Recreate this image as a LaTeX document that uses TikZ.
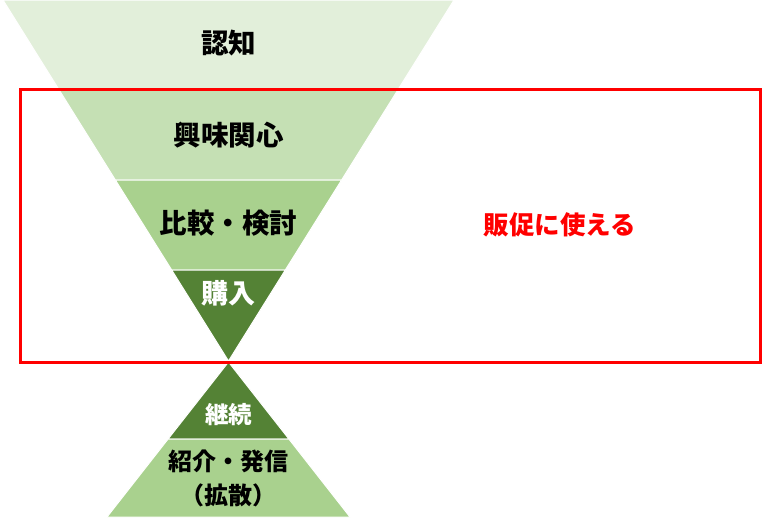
\documentclass[tikz,border=0pt]{standalone}
\usepackage{fontspec}
\setmainfont{Noto Sans CJK JP}
\definecolor{g1}{HTML}{E2EFDA}
\definecolor{g2}{HTML}{C5E0B4}
\definecolor{g3}{HTML}{A9D18E}
\definecolor{g4}{HTML}{548235}
\definecolor{rd}{HTML}{FF0000}
\tikzset{
  layer/.style={draw=white, line width=1pt},
  lbl/.style={font=\fontsize{27.5}{30}\selectfont\bfseries, text=black, inner sep=0pt},
  lblw/.style={font=\fontsize{27}{30}\selectfont\bfseries, text=white, inner sep=0pt},
  lbls/.style={font=\fontsize{24}{30}\selectfont\bfseries, text=black, inner sep=0pt},
  lblsw/.style={font=\fontsize{23.5}{30}\selectfont\bfseries, text=white, inner sep=0pt},
  redtxt/.style={font=\fontsize{25.5}{30}\selectfont\bfseries, text=rd, inner sep=0pt},
  redbox/.style={draw=rd, line width=3pt},
}
\begin{document}
\begin{tikzpicture}[x=1pt,y=-1pt]
\useasboundingbox (0,0) rectangle (780,520);
% top funnel
\fill[g1, layer] (3,0) -- (454,0) -- (397.8,90) -- (59.2,90) -- cycle;
\fill[g2, layer] (59.2,90) -- (397.8,90) -- (341.6,180) -- (115.4,180) -- cycle;
\fill[g3, layer] (115.4,180) -- (341.6,180) -- (285.3,270) -- (171.7,270) -- cycle;
\fill[g4, layer] (171.7,270) -- (285.3,270) -- (228.5,361) -- cycle;
% bottom pyramid
\fill[g4, layer] (228.5,362) -- (288.9,439) -- (168.1,439) -- cycle;
\fill[g3, layer] (168.1,439) -- (288.9,439) -- (350,517) -- (107,517) -- cycle;
% red box
\draw[redbox] (20,89) rectangle (760,362);
% labels
\node[lbl] (n1) at (228.5,43) {認知};
\node[lbl] (n2) at (228.5,135) {興味関心};
\node[lbl] (n3) at (228.5,223) {比較・検討};
\node[lblw] (n4) at (228.5,293) {購入};
\node[lblsw] (n5) at (228.5,415) {継続};
\node[lbls] (n6) at (228.5,461) {紹介・発信};
\node[lbls] (n7) at (228.5,495) {（拡散）};
\node[redtxt] (n8) at (560,225) {販促に使える};
\end{tikzpicture}
\end{document}
